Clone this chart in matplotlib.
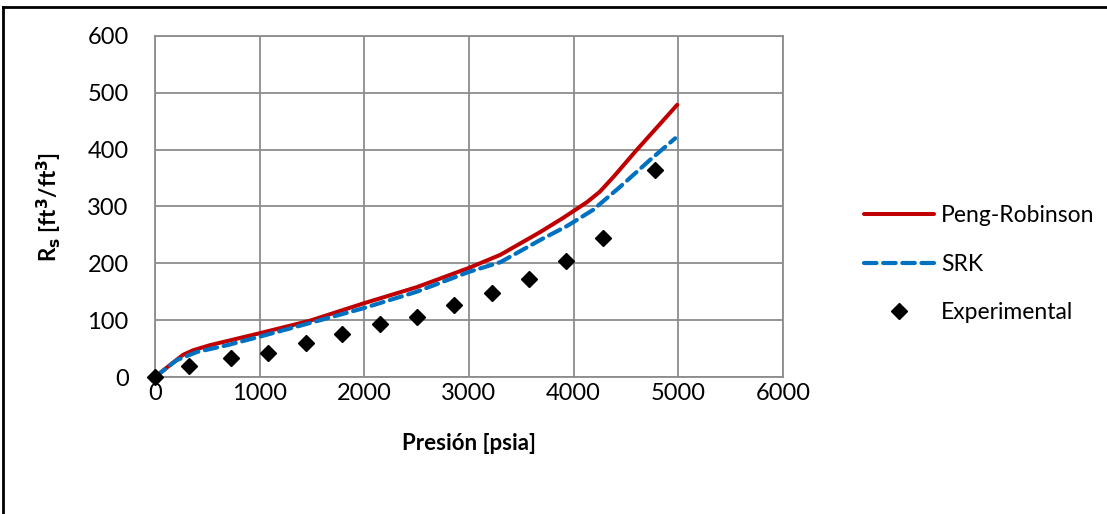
import matplotlib
matplotlib.use('Agg')
from matplotlib import pyplot as plt
from matplotlib.lines import Line2D

plt.rcParams['font.family'] = ['Lato', 'DejaVu Sans']

# experimental points
exp_p = [0, 325, 726, 1080, 1443, 1787, 2150, 2503, 2857, 3220, 3573, 3927, 4280, 4777]
exp_rs = [0, 19, 33, 42, 60, 76, 93, 106, 127, 148, 172, 204, 245, 365]

# Peng-Robinson curve
pr_p = [0, 143, 268, 363, 525, 1000, 1480, 2000, 2500, 3000, 3300, 3680, 3900, 4130, 4250, 4380, 4600, 4990]
pr_rs = [0, 21, 39, 47, 56, 77, 99, 130, 158, 192, 215, 255, 280, 308, 326, 352, 399, 479]

# SRK curve
srk_p = [0, 210, 400, 690, 1000, 1480, 1990, 2500, 3000, 3300, 3680, 3940, 4185, 4440, 4730, 4970]
srk_rs = [0, 30, 44, 56, 71, 95, 121, 150, 185, 202, 241, 266, 294, 334, 382, 420]

fig = plt.figure(figsize=(11.07, 5.14), dpi=100)
ax = fig.add_axes([0.14, 0.2665, 0.5673, 0.6635])

ax.plot(pr_p, pr_rs, color='#c00000', lw=2.9, label='Peng-Robinson', solid_capstyle='round',
        solid_joinstyle='round', zorder=3)
ax.plot(srk_p, srk_rs, color='#0070c0', lw=3.0, dashes=(3, 1.6), dash_capstyle='round',
        dash_joinstyle='round', label='SRK', zorder=4)
ax.plot(exp_p, exp_rs, ls='none', marker='D', ms=8.5, color='black', label='Experimental',
        zorder=5, clip_on=False)

ax.set_xlim(0, 6000)
ax.set_ylim(0, 600)
ax.set_xticks(range(0, 6001, 1000))
ax.set_yticks(range(0, 601, 100))
ax.grid(True, color='#8c8c8c', lw=1.3)
ax.set_axisbelow(True)
for s in ax.spines.values():
    s.set_color('#8c8c8c')
    s.set_linewidth(1.3)
ax.tick_params(length=0, labelsize=17)
ax.tick_params(axis='y', pad=19)
ax.tick_params(axis='x', pad=4)

ax.set_xlabel('Presión [psia]', fontsize=16, fontweight='bold')
ax.set_ylabel(r'R$_\mathbf{s}$ [ft$^\mathbf{3}$/ft$^\mathbf{3}$]', fontsize=16, fontweight='bold')
ax.xaxis.set_label_coords(0.5, -0.165)
ax.yaxis.set_label_coords(-0.145, 0.5)

fig.legend(loc='center left', bbox_to_anchor=(0.762, 0.486), frameon=False, fontsize=16.5,
           handlelength=3.05, labelspacing=1.2, handletextpad=0.3)

# chart border (top and left edges only are visible)
fig.add_artist(Line2D([0.0027, 0.0027], [0, 0.987], transform=fig.transFigure, color='black', lw=2))
fig.add_artist(Line2D([0.0027, 1], [0.987, 0.987], transform=fig.transFigure, color='black', lw=2))

fig.savefig('out.png', dpi=100)
